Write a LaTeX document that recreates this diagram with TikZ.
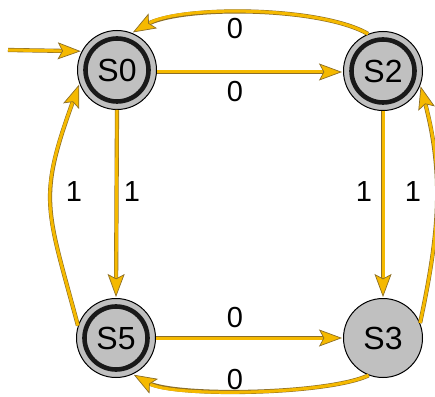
\documentclass[tikz,border=0pt]{standalone}
\usepackage{fontspec}
\setmainfont{Liberation Sans}
\usetikzlibrary{arrows.meta}
\definecolor{arrowyellow}{RGB}{245,185,0}
\definecolor{arrowedge}{RGB}{140,110,40}
\definecolor{stategray}{RGB}{192,192,192}
\tikzset{
  state/.style={circle, draw=black, line width=1pt, fill=stategray,
    minimum size=79pt, inner sep=0pt, font=\fontsize{32}{32}\selectfont},
  ring/.style={draw=black!90, line width=4.6pt},
  edge/.style={draw=arrowyellow, line width=3pt,
    preaction={draw=arrowedge, line width=4.2pt, -, shorten >=16pt},
    -{Stealth[length=23pt, width=17pt, inset=4.5pt, fill=arrowyellow,
      color=arrowedge, line width=0.7pt]},
    shorten >=1pt},
  lbl/.style={font=\fontsize{29}{29}\selectfont, inner sep=0pt}
}
\begin{document}
\begin{tikzpicture}[x=1pt, y=1pt]
  \useasboundingbox (0,0) rectangle (435,396);

  % states
  \node[state] (s0) at (117,326) {};
  \node[state] (s2) at (383,325) {};
  \node[state] (s5) at (116,58) {};
  \node[state] (s3) at (383,58) {S3};

  % inner ring of the accepting states, then their names
  \foreach \s/\t in {s0/S0,s2/S2,s5/S5}{
    \draw[ring] (\s.center) circle[radius=31.5pt];
    \node[font=\fontsize{32}{32}\selectfont, inner sep=0pt] (\s-name) at (\s.center) {\t};
  }

  % start arrow
  \coordinate (init) at (8,346);
  \draw[edge] (init) -- (s0.152);

  % straight transitions
  \draw[edge] (s0.east |- 0,324) -- ([yshift=-1pt]s2.west);
  \draw[edge] (s0.south) -- (s5.north);
  \draw[edge] (s2.south) -- (s3.north);
  \draw[edge] (s5.east) -- (s3.west);

  % curved transitions
  \draw[edge] (s2.112) to[out=150, in=30, looseness=0.6] (s0.68);
  \draw[edge] (s5.162) to[out=105, in=250, looseness=1.3] (s0.200);
  \draw[edge] (s3.22) to[out=78, in=285, looseness=1.0] (s2.339);
  \draw[edge] (s3.249) to[out=205, in=330, looseness=0.5] (s5.295);

  % transition labels
  \node[lbl] (l1) at (235,367) {0};
  \node[lbl] (l2) at (235,304) {0};
  \node[lbl] (l3) at (74,204) {1};
  \node[lbl] (l4) at (132,204) {1};
  \node[lbl] (l5) at (364,204) {1};
  \node[lbl] (l6) at (413,204) {1};
  \node[lbl] (l7) at (235,78) {0};
  \node[lbl] (l8) at (235,16) {0};
\end{tikzpicture}
\end{document}
